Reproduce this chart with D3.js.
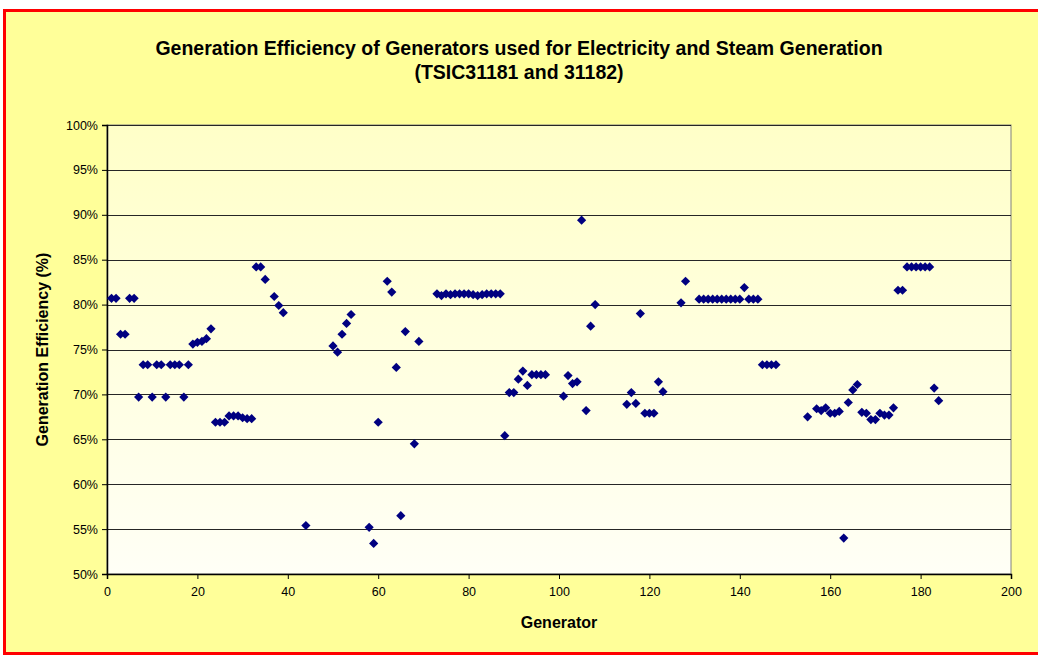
<!DOCTYPE html>
<html>
<head>
<meta charset="utf-8">
<script src="https://cdn.jsdelivr.net/npm/d3@7"></script>
<style>
  body { margin: 0; background: #fff; }
  svg { display: block; font-family: "Liberation Sans", Arial, sans-serif; }
</style>
</head>
<body>
<div id="chart"></div>
<script>
var width = 1038, height = 657;

// generator number and its efficiency (%)
var generators = [1,2,3,4,5,6,7,8,9,10,11,12,13,14,15,16,17,18,19,20,21,22,23,24,25,26,27,28,29,30,31,32,33,34,35,37,38,39,44,50,51,52,53,54,58,59,60,62,63,64,65,66,68,69,73,74,75,76,77,78,79,80,81,82,83,84,85,86,87,88,89,90,91,92,93,94,95,96,97,101,102,103,104,105,106,107,108,115,116,117,118,119,120,121,122,123,127,128,131,132,133,134,135,136,137,138,139,140,141,142,143,144,145,146,147,148,155,157,158,159,160,161,162,163,164,165,166,167,168,169,170,171,172,173,174,175,176,177,178,179,180,181,182,183,184];
var efficiency = [80.7,80.7,76.7,76.7,80.7,80.7,69.7,73.3,73.3,69.7,73.3,73.3,69.7,73.3,73.3,73.3,69.7,73.3,75.6,75.8,75.9,76.2,77.3,66.9,66.9,66.9,67.6,67.6,67.6,67.4,67.3,67.3,84.2,84.2,82.8,80.9,79.9,79.1,55.4,75.4,74.7,76.7,77.9,78.9,55.2,53.4,66.9,82.6,81.4,73.0,56.5,77.0,64.5,75.9,81.2,81.0,81.2,81.1,81.2,81.2,81.2,81.2,81.1,81.0,81.1,81.2,81.2,81.2,81.2,65.4,70.2,70.2,71.7,72.6,71.0,72.2,72.2,72.2,72.2,69.8,72.1,71.2,71.4,89.4,68.2,77.6,80.0,68.9,70.2,69.0,79.0,67.9,67.9,67.9,71.4,70.3,80.2,82.6,80.6,80.6,80.6,80.6,80.6,80.6,80.6,80.6,80.6,80.6,81.9,80.6,80.6,80.6,73.3,73.3,73.3,73.3,67.5,68.4,68.2,68.5,67.9,67.9,68.1,54.0,69.1,70.5,71.1,68.0,67.9,67.2,67.2,67.9,67.7,67.7,68.5,81.6,81.6,84.2,84.2,84.2,84.2,84.2,84.2,70.7,69.3];

var xTicks = [0,20,40,60,80,100,120,140,160,180,200];
var yTicks = [0.5,0.55,0.6,0.65,0.7,0.75,0.8,0.85,0.9,0.95,1.0];

var titleLines = ["Generation Efficiency of Generators used for Electricity and Steam Generation", "(TSIC31181 and 31182)"];

var plot = { left: 107, top: 125, right: 1011, bottom: 574 };

var svg = d3.select("#chart").append("svg")
  .attr("width", width)
  .attr("height", height);

var defs = svg.append("defs");
var grad = defs.append("linearGradient").attr("id", "plotbg")
  .attr("x1", 0).attr("y1", 0).attr("x2", 0).attr("y2", 1);
grad.append("stop").attr("offset", "0%").attr("stop-color", "#ffffc8");
grad.append("stop").attr("offset", "100%").attr("stop-color", "#fffff6");

// chart area with red frame
svg.append("rect")
  .attr("x", 4.5).attr("y", 10.5)
  .attr("width", 1040).attr("height", 643)
  .attr("fill", "#ffff99")
  .attr("stroke", "#ff0000")
  .attr("stroke-width", 3);

var x = d3.scaleLinear().domain([0, 200]).range([plot.left, plot.right]);
var y = d3.scaleLinear().domain([0.5, 1.0]).range([plot.bottom, plot.top]);

svg.append("rect")
  .attr("x", plot.left).attr("y", plot.top)
  .attr("width", plot.right - plot.left).attr("height", plot.bottom - plot.top)
  .attr("fill", "url(#plotbg)")
  .attr("stroke", "#808080");

// gridlines
svg.append("g").selectAll("line")
  .data(yTicks.slice(1))
  .enter().append("line")
  .attr("x1", plot.left).attr("x2", plot.right)
  .attr("y1", function (d) { return Math.round(y(d)) + 0.5; })
  .attr("y2", function (d) { return Math.round(y(d)) + 0.5; })
  .attr("stroke", "#262626");

var yAxis = svg.append("g")
  .attr("transform", "translate(" + plot.left + ",0)")
  .call(d3.axisLeft(y).tickValues(yTicks).tickFormat(d3.format(".0%")).tickSize(5).tickPadding(4));

var xAxis = svg.append("g")
  .attr("transform", "translate(0," + plot.bottom + ")")
  .call(d3.axisBottom(x).tickValues(xTicks).tickSize(5).tickPadding(8));

[xAxis, yAxis].forEach(function (a) {
  a.select(".domain").attr("stroke", "#000").attr("stroke-width", 1.5);
  a.selectAll(".tick line").attr("stroke", "#000");
  a.selectAll("text").attr("font-size", 12.5).attr("fill", "#000")
    .attr("font-family", "'Liberation Sans', Arial, sans-serif");
});

// points, drawn as square diamonds like the spreadsheet marker
var diamond = "M0,-4.6L4.6,0L0,4.6L-4.6,0Z";
svg.append("g").selectAll("path")
  .data(generators)
  .enter().append("path")
  .attr("d", diamond)
  .attr("transform", function (d, i) { return "translate(" + x(d) + "," + y(efficiency[i] / 100) + ")"; })
  .attr("fill", "#000080");

// titles
svg.append("g").selectAll("text")
  .data(titleLines)
  .enter().append("text")
  .attr("x", 519)
  .attr("y", function (d, i) { return 55 + i * 24; })
  .attr("text-anchor", "middle")
  .attr("font-size", 19.5)
  .attr("font-weight", "bold")
  .text(function (d) { return d; });

svg.append("text")
  .attr("x", (plot.left + plot.right) / 2)
  .attr("y", 628)
  .attr("text-anchor", "middle")
  .attr("font-size", 16)
  .attr("font-weight", "bold")
  .text("Generator");

svg.append("text")
  .attr("transform", "translate(48," + (plot.top + plot.bottom) / 2 + ") rotate(-90)")
  .attr("text-anchor", "middle")
  .attr("font-size", 16)
  .attr("font-weight", "bold")
  .text("Generation Efficiency (%)");
</script>
</body>
</html>
